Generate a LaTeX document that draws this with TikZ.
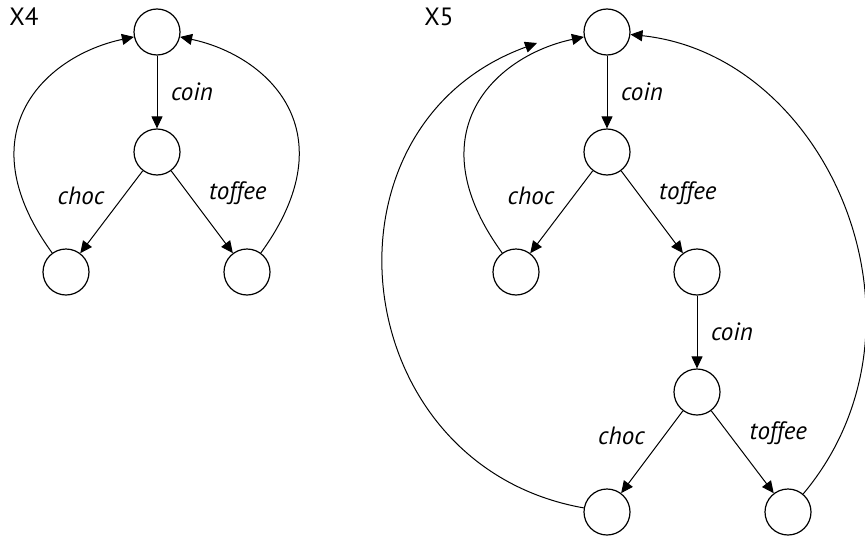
\documentclass[tikz,border=0pt]{standalone}
\usepackage{fontspec}
\setmainfont{PT Sans}
\usetikzlibrary{positioning,arrows.meta}

\begin{document}
\begin{tikzpicture}[
    on grid,
    node distance=60pt,
    stnode/.style={
        draw,
        circle,
        line width=0.6pt,
        minimum size=23pt,
        inner sep=0pt
    },
    lbl/.style={
        font=\fontsize{12.5}{14}\selectfont\itshape
    },
    procname/.style={
        font=\fontsize{12.5}{14}\selectfont
    },
    arrow/.style={
        -{Triangle[length=6pt,width=5.5pt]},
        line width=0.5pt
    }
]

    \useasboundingbox (0,0) rectangle (432.5pt,-270pt);

    % ---------------------------------------------------------
    % LEFT: PROCESS X4
    % ---------------------------------------------------------
    \node[procname] (x4) at (12pt,-8.5pt) {X4};
    \node[stnode] (start4) at (78.5pt,-16pt) {};
    \node[stnode, below=of start4] (paid4) {};
    \node[stnode, below left=60pt and 45.5pt of paid4] (choc4) {};
    \node[stnode, below right=60pt and 45pt of paid4] (toffee4) {};

    \draw[arrow] (start4) -- node[lbl, right=3.5pt] (lcoin4) {coin} (paid4);
    \draw[arrow] (paid4) -- node[lbl, above left] (lchoc4) {choc} (choc4);
    \draw[arrow] (paid4) -- node[lbl, above right] (ltoffee4) {toffee} (toffee4);

    % back to the start
    \draw[arrow] (choc4) to[out=126, in=192, out distance=75pt, in distance=45pt] (start4);
    \draw[arrow] (toffee4) to[out=54, in=-12, out distance=75pt, in distance=45pt] (start4);

    % ---------------------------------------------------------
    % RIGHT: PROCESS X5
    % ---------------------------------------------------------
    \node[procname] (x5) at (219.5pt,-8.5pt) {X5};
    \node[stnode] (start5) at (303.5pt,-16pt) {};
    \node[stnode, below=of start5] (paid5) {};
    \node[stnode, below left=60pt and 45.5pt of paid5] (choc5) {};
    \node[stnode, below right=60pt and 45pt of paid5] (toffee5) {};
    \node[stnode, below=of toffee5] (paidb5) {};
    \node[stnode, below left=60pt and 45pt of paidb5] (chocb5) {};
    \node[stnode, below right=60pt and 45.5pt of paidb5] (toffeeb5) {};
    \coordinate (back5) at (268.5pt,-21.5pt);

    \draw[arrow] (start5) -- node[lbl, right=3.5pt] (lcoin5) {coin} (paid5);
    \draw[arrow] (paid5) -- node[lbl, above left] (lchoc5) {choc} (choc5);
    \draw[arrow] (paid5) -- node[lbl, above right] (ltoffee5) {toffee} (toffee5);
    \draw[arrow] (toffee5) -- node[lbl, right=3.5pt] (lcoinb5) {coin} (paidb5);
    \draw[arrow] (paidb5) -- node[lbl, above left] (lchocb5) {choc} (chocb5);
    \draw[arrow] (paidb5) -- node[lbl, above right] (ltoffeeb5) {toffee} (toffeeb5);

    % back to the start
    \draw[arrow] (choc5) to[out=126, in=192, out distance=75pt, in distance=45pt] (start5);
    \draw[arrow] (chocb5) to[out=170, in=200, looseness=1.33] (back5);
    \draw[arrow] (toffeeb5) to[out=50, in=-6, out distance=110pt, in distance=100pt] (start5);

\end{tikzpicture}
\end{document}
